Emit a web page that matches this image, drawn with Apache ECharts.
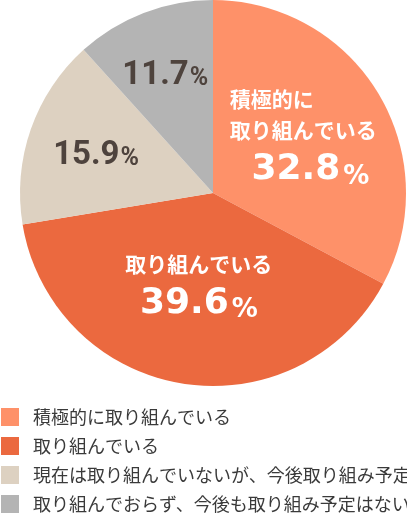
<!DOCTYPE html>
<html>
<head>
<meta charset="utf-8">
<script src="https://cdn.jsdelivr.net/npm/echarts@6/dist/echarts.min.js"></script>
<style>
  html, body { margin: 0; padding: 0; background: #fff; }
  #chart { width: 407px; height: 515px; }
</style>
</head>
<body>
<div id="chart"></div>
<script>
const categories = [
  '積極的に取り組んでいる',
  '取り組んでいる',
  '現在は取り組んでいないが、今後取り組み予定',
  '取り組んでおらず、今後も取り組み予定はない'
]
const values = [32.8, 39.6, 15.9, 11.7]
// text shown inside the slices (first two have a caption)
const sliceCaptions = ['積極的に\n取り組んでいる', '取り組んでいる', '', '']

const colorList = ['#FE9169', '#EB693F', '#DDD1C1', '#B4B4B4']
const labelShift = [[5, -3], [2, -3], [-23, -4], [-12, -24]]

const myChart = echarts.init(document.getElementById('chart'))

const jpFont = '"Noto Sans CJK JP", sans-serif'
const numFont = '"DejaVu Sans", sans-serif'

const richStyles = {
  t: { color: '#fff', fontSize: 21, fontWeight: 'bold', fontFamily: jpFont, lineHeight: 31 },
  tl: { color: '#fff', fontSize: 21, fontWeight: 'bold', fontFamily: jpFont, lineHeight: 31, width: 147, align: 'left' },
  n: { color: '#fff', fontSize: 36, fontWeight: 'bold', fontFamily: numFont, lineHeight: 48 },
  np: { color: '#fff', fontSize: 36, fontWeight: 'bold', fontFamily: numFont, lineHeight: 48, padding: [0, 0, 0, 14] },
  p: { color: '#fff', fontSize: 26, fontWeight: 'bold', fontFamily: numFont, lineHeight: 48, verticalAlign: 'bottom', padding: [0, 0, 4, 3] },
  d: { color: '#4E433D', fontSize: 33, fontWeight: 'bold', fontFamily: '"Roboto", sans-serif', lineHeight: 40 },
  dp: { color: '#4E433D', fontSize: 25, fontWeight: 'bold', fontFamily: '"Roboto", sans-serif', lineHeight: 40, verticalAlign: 'bottom', padding: [0, 0, 5, 1] }
}

const data = categories.map((name, i) => {
  let formatter
  if (i === 0) {
    const lines = sliceCaptions[i].split('\n').map(s => `{tl|${s}}`).join('\n')
    formatter = `${lines}\n{np|${values[i].toFixed(1)}}{p|%}`
  } else if (i === 1) {
    formatter = `{t|${sliceCaptions[i]}}\n{n|${values[i].toFixed(1)}}{p|%}`
  } else {
    formatter = `{d|${values[i].toFixed(1)}}{dp|%}`
  }
  return {
    name,
    value: values[i],
    itemStyle: { color: colorList[i] },
    label: { formatter }
  }
})

myChart.setOption({
  animation: false,
  color: colorList,
  legend: {
    orient: 'vertical',
    left: 1,
    top: 408,
    padding: 0,
    icon: 'rect',
    itemWidth: 18,
    itemHeight: 18,
    itemGap: 11,
    selectedMode: false,
    textStyle: {
      color: '#3A3A3A',
      fontSize: 18,
      lineHeight: 18,
      fontFamily: jpFont,
      padding: [0, 0, 0, 9]
    },
    data: categories
  },
  series: [
    {
      type: 'pie',
      center: [213, 193],
      radius: 193,
      startAngle: 90,
      clockwise: true,
      silent: true,
      label: {
        show: true,
        position: 'inside',
        rich: richStyles
      },
      labelLine: { show: false },
      labelLayout: (params) => ({
        dx: labelShift[params.dataIndex][0],
        dy: labelShift[params.dataIndex][1]
      }),
      data
    }
  ]
})
</script>
</body>
</html>
